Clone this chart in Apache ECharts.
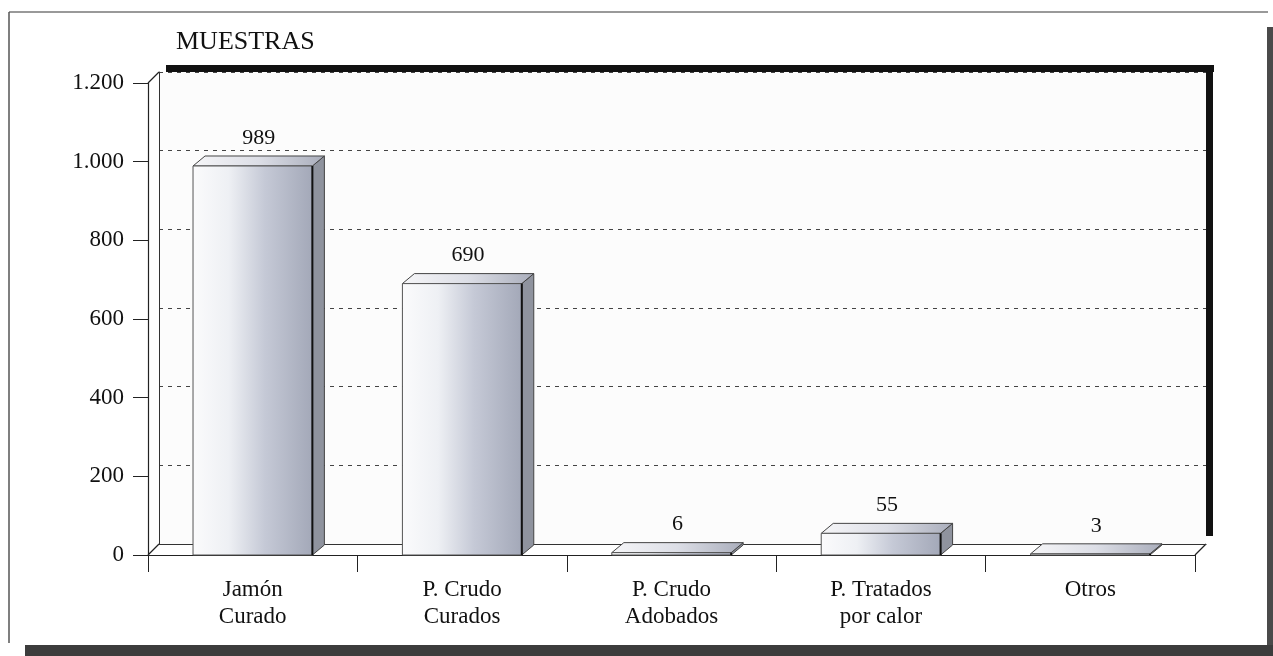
<!DOCTYPE html>
<html>
<head>
<meta charset="utf-8">
<script src="https://cdn.jsdelivr.net/npm/echarts@6/dist/echarts.min.js"></script>
<style>
  html, body { margin: 0; padding: 0; background: #fff; }
  #chart { width: 1273px; height: 656px; }
</style>
</head>
<body>
<div id="chart"></div>
<script>
// data
const categories = ['Jamón\nCurado', 'P. Crudo\nCurados', 'P. Crudo\nAdobados', 'P. Tratados\npor calor', 'Otros'];
const muestras = [989, 690, 6, 55, 3];
const yTicks = { min: 0, max: 1200, interval: 200 };

// layout (front plane of the 3d box, plus depth offset)
const L = 148, R = 1195, T = 83, B = 555;
const W = 1273, H = 656;
const DX = 11, DY = -11;
const FONT = 'Liberation Serif';

const chart = echarts.init(document.getElementById('chart'));

function fmtThousands(v) {
    return String(v).replace(/\B(?=(\d{3})+(?!\d))/g, '.');
}

function renderBar(params, api) {
    const idx = api.value(0), val = api.value(1);
    const top = api.coord([idx, val]);
    const base = api.coord([idx, 0]);
    const band = api.size([1, 0])[0];
    const w = band * 0.57;
    const x0 = top[0] - w / 2, x1 = top[0] + w / 2;
    const y0 = top[1], y1 = base[1];
    const dx = 12, dy = -10;
    return {
        type: 'group',
        children: [
            {
                type: 'polygon',
                shape: { points: [[x1, y0], [x1 + dx, y0 + dy], [x1 + dx, y1 + dy], [x1, y1]] },
                style: { fill: '#8f939e', stroke: '#444', lineWidth: 1 }
            },
            {
                type: 'polygon',
                shape: { points: [[x0, y0], [x0 + dx, y0 + dy], [x1 + dx, y0 + dy], [x1, y0]] },
                style: {
                    fill: new echarts.graphic.LinearGradient(0, 0, 1, 0, [
                        { offset: 0, color: '#f6f6f8' },
                        { offset: 0.5, color: '#dcdee6' },
                        { offset: 1, color: '#a9adbb' }
                    ]),
                    stroke: '#444', lineWidth: 1
                }
            },
            {
                type: 'rect',
                shape: { x: x0, y: y0, width: w, height: y1 - y0 },
                style: {
                    fill: new echarts.graphic.LinearGradient(0, 0, 1, 0, [
                        { offset: 0, color: '#fbfbfc' },
                        { offset: 0.3, color: '#eef0f4' },
                        { offset: 0.6, color: '#c5c9d6' },
                        { offset: 1, color: '#a3a8b8' }
                    ]),
                    stroke: '#555', lineWidth: 1
                }
            },
            {
                type: 'line',
                shape: { x1: x1, y1: y0, x2: x1, y2: y1 },
                style: { stroke: '#111', lineWidth: 2 }
            },
            {
                type: 'text',
                style: {
                    text: String(val),
                    x: top[0] + dx / 2,
                    y: y0 + dy - 7,
                    align: 'center',
                    verticalAlign: 'bottom',
                    font: '22px "' + FONT + '"',
                    fill: '#111'
                }
            }
        ]
    };
}

const option = {
    backgroundColor: '#fff',
    animation: false,
    title: {
        text: 'MUESTRAS',
        left: 171,
        top: 24,
        textStyle: { fontFamily: FONT, fontSize: 26, fontWeight: 'normal', color: '#111' }
    },
    grid: [
        { left: L, right: W - R, top: T, bottom: H - B },
        { left: L + DX, right: W - R - DX, top: T + DY, bottom: H - B - DY,
          show: true, backgroundColor: '#fcfcfc', borderWidth: 0 }
    ],
    xAxis: [
        {
            type: 'category', gridIndex: 0, data: categories,
            axisLine: { lineStyle: { color: '#222', width: 1.2 } },
            axisTick: { show: true, length: 17, lineStyle: { color: '#222' } },
            axisLabel: {
                interval: 0, margin: 21, color: '#111',
                fontFamily: FONT, fontSize: 23, lineHeight: 27
            }
        },
        {
            type: 'category', gridIndex: 1, data: categories,
            axisLine: { lineStyle: { color: '#333', width: 1 } },
            axisTick: { show: false }, axisLabel: { show: false }
        }
    ],
    yAxis: [
        {
            type: 'value', gridIndex: 0, min: yTicks.min, max: yTicks.max, interval: yTicks.interval,
            axisLine: { show: true, lineStyle: { color: '#222', width: 1.2 } },
            axisTick: { show: true, length: 15, lineStyle: { color: '#222' } },
            splitLine: { show: false },
            axisLabel: {
                margin: 24, color: '#111', fontFamily: FONT, fontSize: 23,
                formatter: fmtThousands
            }
        },
        {
            type: 'value', gridIndex: 1, min: yTicks.min, max: yTicks.max, interval: yTicks.interval,
            axisLine: { show: true, lineStyle: { color: '#333', width: 1 } },
            axisTick: { show: false }, axisLabel: { show: false },
            splitLine: { show: true, lineStyle: { color: '#444', type: [4, 5], width: 1 } }
        }
    ],
    series: [
        {
            type: 'custom',
            xAxisIndex: 0, yAxisIndex: 0,
            renderItem: renderBar,
            data: muestras.map((v, i) => [i, v]),
            z: 10
        }
    ],
    graphic: [
        // wall / floor corner edges
        { type: 'line', shape: { x1: L, y1: T, x2: L + DX, y2: T + DY }, style: { stroke: '#222', lineWidth: 1.2 } },
        { type: 'line', shape: { x1: L, y1: B, x2: L + DX, y2: B + DY }, style: { stroke: '#222', lineWidth: 1.2 } },
        { type: 'line', shape: { x1: R, y1: B, x2: R + DX, y2: B + DY }, style: { stroke: '#222', lineWidth: 1.2 } },
        // black shadow frame of the back wall
        { type: 'rect', shape: { x: L + DX + 7, y: T + DY - 7, width: R - L + 1, height: 7 }, style: { fill: '#111' }, z: 5 },
        { type: 'rect', shape: { x: R + DX, y: T + DY - 7, width: 7, height: B - T - 1 }, style: { fill: '#111' }, z: 5 },
        // page frame of the scan
        { type: 'line', shape: { x1: 9, y1: 12, x2: 1268, y2: 12 }, style: { stroke: '#777', lineWidth: 1.5 } },
        { type: 'line', shape: { x1: 9, y1: 12, x2: 9, y2: 643 }, style: { stroke: '#555', lineWidth: 1.5 } },
        { type: 'rect', shape: { x: 1267, y: 27, width: 6, height: 629 }, style: { fill: '#4a4a4a' } },
        { type: 'rect', shape: { x: 25, y: 645, width: 1248, height: 11 }, style: { fill: '#3c3c3c' } }
    ]
};

chart.setOption(option);
</script>
</body>
</html>
